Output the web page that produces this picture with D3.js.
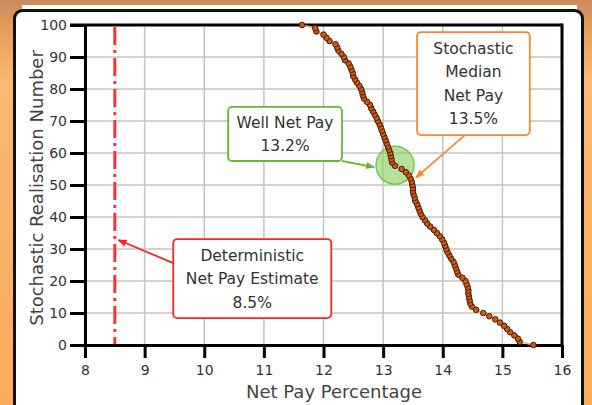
<!DOCTYPE html>
<html>
<head>
<meta charset="utf-8">
<script src="https://cdn.jsdelivr.net/npm/d3@7"></script>
<style>
  body { margin: 0; }
  svg { display: block; font-family: "DejaVu Sans", Verdana, sans-serif; }
</style>
</head>
<body>
<div class="chart"></div>
<script>
// realisation numbers 0..100 and the net pay (%)
var realisations = d3.range(0, 101);
var netPay = [
  15.52, 15.29, 15.26, 15.20, 15.13, 15.08, 15.03, 14.96, 14.88, 14.78,
  14.68, 14.56, 14.49, 14.46, 14.45, 14.44, 14.43, 14.43, 14.42, 14.40,
  14.38, 14.33, 14.26, 14.24, 14.22, 14.20, 14.18, 14.14, 14.11, 14.08,
  14.06, 14.04, 14.02, 13.99, 13.95, 13.90, 13.85, 13.79, 13.74, 13.70,
  13.66, 13.63, 13.61, 13.59, 13.57, 13.54, 13.53, 13.51, 13.50, 13.50,
  13.49, 13.48, 13.46, 13.43, 13.38, 13.31, 13.20, 13.15, 13.14, 13.13,
  13.12, 13.10, 13.08, 13.06, 13.04, 13.02, 13.00, 12.98, 12.96, 12.94,
  12.91, 12.89, 12.86, 12.83, 12.80, 12.78, 12.73, 12.68, 12.66, 12.65,
  12.63, 12.60, 12.56, 12.53, 12.50, 12.49, 12.47, 12.45, 12.42, 12.36,
  12.34, 12.30, 12.25, 12.23, 12.20, 12.10, 12.05, 12.00, 11.88, 11.86,
  11.64
];
var xTicks = [8, 9, 10, 11, 12, 13, 14, 15, 16];
var yTicks = [0, 10, 20, 30, 40, 50, 60, 70, 80, 90, 100];
var deterministic = 8.5;
var wellNetPay = [13.2, 56.2];

// callouts: box in data units, pointer from / to in data units
var callouts = [
  { lines: ["Well Net Pay", "13.2%"], color: "#66b832",
    box: [10.4, 74.4, 12.31, 57.5], from: [12.31, 57.5], to: [12.85, 55.6] },
  { lines: ["Stochastic", "Median", "Net Pay", "13.5%"], color: "#ff8530",
    box: [13.57, 97.8, 15.46, 65.6], from: [14.37, 65.6], to: [13.55, 52.3] },
  { lines: ["Deterministic", "Net Pay Estimate", "8.5%"], color: "#ff2424",
    box: [9.48, 33.1, 12.13, 8.4], from: [9.48, 25.6], to: [8.56, 32.8] }
];

var svgWidth = 592;
var svgHeight = 405;
var margin = { top: 25, right: 30, bottom: 60, left: 85 };
var width = 562 - margin.left;
var height = 345 - margin.top;

var svg = d3.select(".chart").append("svg")
  .attr("width", svgWidth)
  .attr("height", svgHeight);

var defs = svg.append("defs");
var bg = defs.append("linearGradient").attr("id", "bg")
  .attr("x1", 0).attr("y1", 0).attr("x2", 0).attr("y2", 1);
bg.append("stop").attr("offset", "0%").attr("stop-color", "#c98c5e");
bg.append("stop").attr("offset", "6%").attr("stop-color", "#e39a5a");
bg.append("stop").attr("offset", "20%").attr("stop-color", "#fdb873");
bg.append("stop").attr("offset", "100%").attr("stop-color", "#fbab5c");

callouts.forEach(function(c, i) {
  defs.append("marker")
    .attr("id", "arrow" + i)
    .attr("viewBox", "0 0 10 10")
    .attr("refX", 9).attr("refY", 5)
    .attr("markerWidth", 5).attr("markerHeight", 5)
    .attr("orient", "auto")
    .append("path")
    .attr("d", "M0,1L10,5L0,9Z")
    .attr("fill", c.color);
});

// background and panel
svg.append("rect").attr("width", svgWidth).attr("height", svgHeight).attr("fill", "url(#bg)");
svg.append("rect").attr("x", 22).attr("y", 5).attr("width", 555).attr("height", 12).attr("fill", "#fff");
svg.append("rect")
  .attr("x", 14.5).attr("y", 10.5).attr("width", 568).attr("height", 430)
  .attr("rx", 8)
  .attr("fill", "#fff").attr("stroke", "#111").attr("stroke-width", 3);

var chart = svg.append("g")
  .attr("transform", "translate(" + margin.left + "," + margin.top + ")");

var x = d3.scaleLinear().domain([8, 16]).range([0, width]);
var y = d3.scaleLinear().domain([0, 100]).range([height, 0]);

// grid
chart.append("g").selectAll("line")
  .data(xTicks.slice(1, -1)).enter().append("line")
  .attr("x1", function(d) { return x(d); }).attr("x2", function(d) { return x(d); })
  .attr("y1", 0).attr("y2", height)
  .attr("stroke", "#c4c4c4").attr("stroke-width", 1.5);
chart.append("g").selectAll("line")
  .data(yTicks.slice(1, -1)).enter().append("line")
  .attr("y1", function(d) { return y(d); }).attr("y2", function(d) { return y(d); })
  .attr("x1", 0).attr("x2", width)
  .attr("stroke", "#c4c4c4").attr("stroke-width", 1.5);

// deterministic estimate
chart.append("line")
  .attr("x1", x(deterministic)).attr("x2", x(deterministic))
  .attr("y1", y(100) + 2).attr("y2", y(0))
  .attr("stroke", "#ff3333").attr("stroke-width", 3)
  .attr("stroke-dasharray", "18,5,3,5");

// frame top and right
chart.append("line")
  .attr("x1", -15).attr("x2", width).attr("y1", 0).attr("y2", 0)
  .attr("stroke", "#000").attr("stroke-width", 3);
chart.append("line")
  .attr("x1", width).attr("x2", width).attr("y1", -1.5).attr("y2", height)
  .attr("stroke", "#000").attr("stroke-width", 3);

// axes
var bottomAxis = d3.axisBottom(x).tickValues(xTicks).tickSize(13).tickSizeOuter(0).tickPadding(7);
var leftAxis = d3.axisLeft(y).tickValues(yTicks).tickSize(15).tickSizeOuter(0).tickPadding(3);

var gx = chart.append("g").attr("transform", "translate(0," + height + ")").call(bottomAxis);
var gy = chart.append("g").call(leftAxis);
[gx, gy].forEach(function(g) {
  g.attr("font-family", null).attr("font-size", null);
  g.select(".domain").attr("stroke", "#000").attr("stroke-width", 3);
  g.selectAll(".tick line").attr("stroke", "#000").attr("stroke-width", 3);
  g.selectAll(".tick text").attr("fill", "#333").style("font-size", "14px");
});

// green circle for well net pay
chart.append("circle")
  .attr("cx", x(wellNetPay[0])).attr("cy", y(wellNetPay[1]))
  .attr("r", 19)
  .attr("fill", "#8fd166").attr("fill-opacity", 0.65)
  .attr("stroke", "#7cc24f").attr("stroke-width", 1.5);

// stochastic curve
var pts = realisations.map(function(r, i) { return { r: r, v: netPay[i] }; });
var line = d3.line()
  .x(function(d) { return x(d.v); })
  .y(function(d) { return y(d.r); });
chart.append("path")
  .datum(pts)
  .attr("d", line)
  .attr("fill", "none")
  .attr("stroke", "#f7b48a").attr("stroke-width", 1.5);
chart.append("g").selectAll("circle")
  .data(pts).enter().append("circle")
  .attr("cx", function(d) { return x(d.v); })
  .attr("cy", function(d) { return y(d.r); })
  .attr("r", 2.8)
  .attr("fill", "#d45a0a")
  .attr("stroke", "#3b1e08").attr("stroke-width", 1);

// callouts
callouts.forEach(function(c, i) {
  var x0 = x(c.box[0]), y0 = y(c.box[1]), x1 = x(c.box[2]), y1 = y(c.box[3]);
  chart.append("line")
    .attr("x1", x(c.from[0])).attr("y1", y(c.from[1]))
    .attr("x2", x(c.to[0])).attr("y2", y(c.to[1]))
    .attr("stroke", c.color).attr("stroke-width", 1.8)
    .attr("marker-end", "url(#arrow" + i + ")");
  chart.append("rect")
    .attr("x", x0).attr("y", y0)
    .attr("width", x1 - x0).attr("height", y1 - y0)
    .attr("rx", 4)
    .attr("fill", "#fff").attr("stroke", c.color).attr("stroke-width", 1.8);
  var lh = 23.5;
  var top = (y0 + y1) / 2 - (c.lines.length - 1) * lh / 2;
  chart.append("text")
    .attr("text-anchor", "middle")
    .attr("fill", "#333")
    .style("font-size", "15.5px")
    .selectAll("tspan")
    .data(c.lines).enter().append("tspan")
    .attr("x", (x0 + x1) / 2)
    .attr("y", function(d, j) { return top + j * lh; })
    .attr("dy", "0.35em")
    .text(function(d) { return d; });
});

// axis labels
svg.append("text")
  .attr("transform", "translate(37," + 188 + ") rotate(-90)")
  .attr("text-anchor", "middle")
  .attr("dy", "0.35em")
  .attr("fill", "#444")
  .style("font-size", "18px")
  .text("Stochastic Realisation Number");

svg.append("text")
  .attr("x", 334).attr("y", 392)
  .attr("text-anchor", "middle")
  .attr("dy", "0.35em")
  .attr("fill", "#444")
  .style("font-size", "18px")
  .text("Net Pay Percentage");
</script>
</body>
</html>
